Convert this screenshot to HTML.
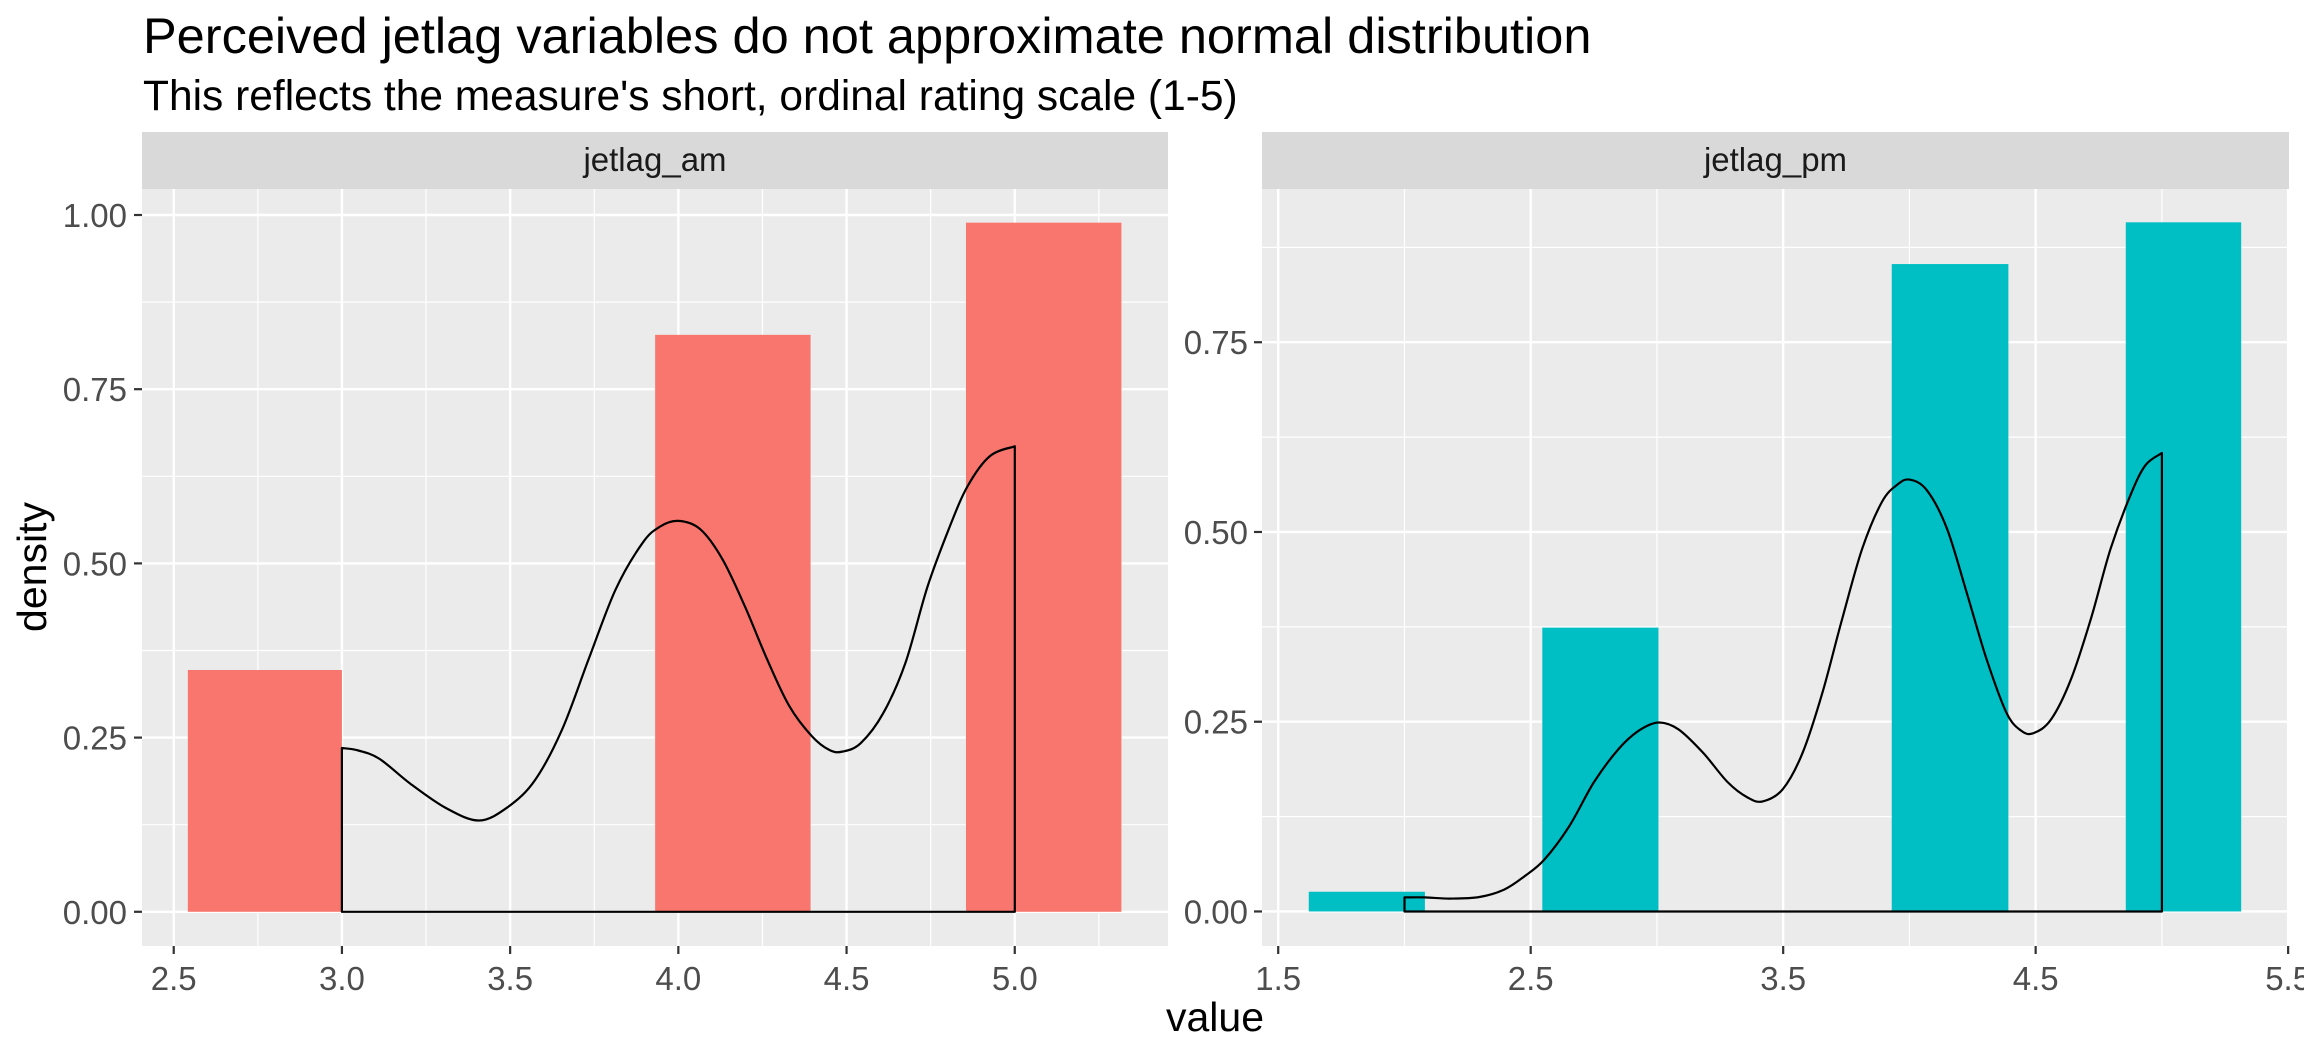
<!DOCTYPE html>
<html><head><meta charset="utf-8"><style>
html,body{margin:0;padding:0;background:#fff;}
svg{display:block;font-family:"Liberation Sans",Arial,sans-serif;}
</style></head><body>
<svg id="chart" width="2304" height="1056" viewBox="0 0 2304 1056" xmlns="http://www.w3.org/2000/svg">
<text x="143" y="53" font-size="50.5" fill="#000">Perceived jetlag variables do not approximate normal distribution</text>
<text x="143" y="110" font-size="42.5" fill="#000">This reflects the measure's short, ordinal rating scale (1-5)</text>
<text transform="translate(46,567) rotate(-90)" text-anchor="middle" font-size="41" fill="#000">density</text>
<text x="1215" y="1031" text-anchor="middle" font-size="41" fill="#000">value</text>
<g id="panels"></g>
</svg>
<script>
// ---- data: jetlag_am ----
const amBarLeft = [2.542, 3.931, 4.855];
const amBarRight = [3.0, 4.393, 5.317];
const amBarDensity = [0.347, 0.828, 0.989];
const amCurveX = [3.0,3.044,3.11,3.203,3.309,3.408,3.495,3.574,3.654,3.733,3.813,3.893,3.946,4.0,4.065,4.131,4.198,4.264,4.33,4.397,4.45,4.489,4.542,4.609,4.675,4.741,4.807,4.86,4.926,5.0];
const amCurveY = [0.235,0.232,0.22,0.184,0.149,0.131,0.151,0.189,0.261,0.362,0.462,0.529,0.553,0.561,0.549,0.506,0.438,0.362,0.295,0.252,0.232,0.23,0.242,0.285,0.357,0.467,0.553,0.611,0.654,0.668];
const amXTicks = ["2.5","3.0","3.5","4.0","4.5","5.0"];
const amYTicks = ["0.00","0.25","0.50","0.75","1.00"];
// ---- data: jetlag_pm ----
const pmBarLeft = [1.621, 2.546, 3.93, 4.857];
const pmBarRight = [2.081, 3.006, 4.392, 5.314];
const pmBarDensity = [0.026, 0.374, 0.853, 0.908];
const pmCurveX = [2.0,2.081,2.179,2.297,2.396,2.474,2.553,2.652,2.75,2.848,2.927,3.006,3.085,3.183,3.281,3.36,3.419,3.498,3.577,3.656,3.734,3.813,3.892,3.951,4.0,4.069,4.148,4.226,4.305,4.384,4.443,4.492,4.561,4.64,4.719,4.797,4.876,4.935,5.0];
const pmCurveY = [0.0185,0.0185,0.017,0.019,0.029,0.046,0.068,0.112,0.17,0.214,0.238,0.249,0.24,0.209,0.17,0.15,0.145,0.161,0.209,0.289,0.386,0.478,0.54,0.562,0.569,0.555,0.505,0.421,0.333,0.262,0.238,0.235,0.253,0.306,0.386,0.478,0.549,0.588,0.604];
const pmXTicks = ["1.5","2.5","3.5","4.5","5.5"];
const pmYTicks = ["0.00","0.25","0.50","0.75"];

const NS = "http://www.w3.org/2000/svg";
const root = document.getElementById('panels');
function mk(tag, attrs, parent){
  const e = document.createElementNS(NS, tag);
  for (const k in attrs) e.setAttribute(k, attrs[k]);
  (parent||root).appendChild(e);
  return e;
}
function smoothPath(p){
  let d = 'M' + p[0][0].toFixed(1) + ',' + p[0][1].toFixed(1);
  for (let i = 0; i < p.length - 1; i++){
    const p0 = p[Math.max(0,i-1)], p1 = p[i], p2 = p[i+1], p3 = p[Math.min(p.length-1,i+2)];
    const c1x = p1[0] + (p2[0]-p0[0])/6, c1y = p1[1] + (p2[1]-p0[1])/6;
    const c2x = p2[0] - (p3[0]-p1[0])/6, c2y = p2[1] - (p3[1]-p1[1])/6;
    d += ' C' + c1x.toFixed(1)+','+c1y.toFixed(1)+' '+c2x.toFixed(1)+','+c2y.toFixed(1)+' '+p2[0].toFixed(1)+','+p2[1].toFixed(1);
  }
  return d;
}

function drawPanel(cfg){
  const {name,left,right,top,bottom,xmin,xmax,ymin,ymax,xTicks,xMinor,yTicks,yMinor,color,barL,barR,barD,cx,cy,strip,yLabelX} = cfg;
  const sx = v => left + (v - xmin) / (xmax - xmin) * (right - left);
  const sy = v => bottom - (v - ymin) / (ymax - ymin) * (bottom - top);
  const g = mk('g', {});
  
  
  const st = mk('rect', {x:left, y:132, width:right-left, height:top-132, fill:'#D9D9D9'}, g);
  
  
  const stt = mk('text', {x:(left+right)/2, y:171, 'text-anchor':'middle', 'font-size':33, fill:'#1A1A1A'}, g);
  stt.textContent = strip;
  
  
  const bg = mk('rect', {x:left, y:top, width:right-left, height:bottom-top, fill:'#EBEBEB'}, g);
  
  
  xMinor.forEach(v => { const l = mk('line', {x1:sx(v), x2:sx(v), y1:top, y2:bottom, stroke:'#fff', 'stroke-width':1.2}, g);
      });
  yMinor.forEach(v => { const l = mk('line', {x1:left, x2:right, y1:sy(v), y2:sy(v), stroke:'#fff', 'stroke-width':1.2}, g);
      });
  xTicks.forEach(t => { const v = parseFloat(t);
    const l = mk('line', {x1:sx(v), x2:sx(v), y1:top, y2:bottom, stroke:'#fff', 'stroke-width':2.4}, g);
     
    const tk = mk('line', {x1:sx(v), x2:sx(v), y1:bottom, y2:bottom+8, stroke:'#333', 'stroke-width':2.2}, g);
     
    const tx = mk('text', {x:sx(v), y:990, 'text-anchor':'middle', 'font-size':33, fill:'#4D4D4D'}, g);
    tx.textContent = t;
      });
  yTicks.forEach(t => { const v = parseFloat(t);
    const l = mk('line', {x1:left, x2:right, y1:sy(v), y2:sy(v), stroke:'#fff', 'stroke-width':2.4}, g);
     
    const tk = mk('line', {x1:left-8, x2:left, y1:sy(v), y2:sy(v), stroke:'#333', 'stroke-width':2.2}, g);
     
    const tx = mk('text', {x:yLabelX, y:sy(v)+12, 'text-anchor':'end', 'font-size':33, fill:'#4D4D4D'}, g);
    tx.textContent = t;
      });
  barD.forEach((d,i) => {
    const r = mk('rect', {x:sx(barL[i]), y:sy(d), width:sx(barR[i])-sx(barL[i]), height:sy(0)-sy(d), fill:color}, g);
    
    
  });
  const pts = cx.map((x,i) => [sx(x), sy(cy[i])]);
  const x0 = sx(cx[0]), x1 = sx(cx[cx.length-1]), y0 = sy(0);
  let d = 'M' + x0.toFixed(1) + ',' + y0.toFixed(1) + ' L' + pts[0][0].toFixed(1) + ',' + pts[0][1].toFixed(1);
  d += smoothPath(pts).replace(/^M[^ ]+/, '');
  d += ' L' + x1.toFixed(1) + ',' + y0.toFixed(1) + ' Z';
  const p = mk('path', {d: d, fill:'none', stroke:'#000', 'stroke-width':2.2, 'stroke-linejoin':'round'}, g);
  
  
}

drawPanel({name:'jetlag-am', strip:'jetlag_am', left:142, right:1168, top:189, bottom:946,
  xmin:2.4057, xmax:5.4555, ymin:-0.0491, ymax:1.0373,
  xTicks:amXTicks, xMinor:[2.75,3.25,3.75,4.25,4.75,5.25], yTicks:amYTicks, yMinor:[0.125,0.375,0.625,0.875],
  color:'#F8766D', barL:amBarLeft, barR:amBarRight, barD:amBarDensity, cx:amCurveX, cy:amCurveY, yLabelX:127});
drawPanel({name:'jetlag-pm', strip:'jetlag_pm', left:1262, right:2289, top:189, bottom:946,
  xmin:1.4358, xmax:5.5034, ymin:-0.0455, ymax:0.9519,
  xTicks:pmXTicks, xMinor:[2.0,3.0,4.0,5.0], yTicks:pmYTicks, yMinor:[0.125,0.375,0.625,0.875],
  color:'#00BFC4', barL:pmBarLeft, barR:pmBarRight, barD:pmBarDensity, cx:pmCurveX, cy:pmCurveY, yLabelX:1248});
</script>
</body></html>
